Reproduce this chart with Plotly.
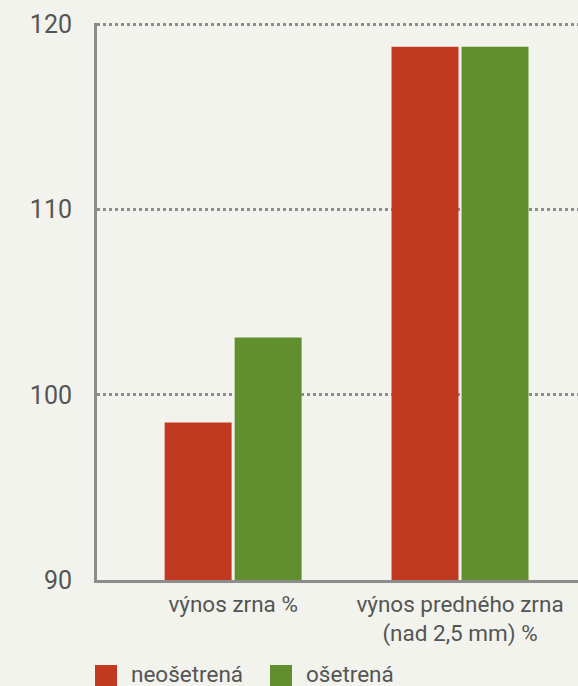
import plotly.graph_objects as go

categories = ["výnos zrna %", "výnos predného zrna<br>(nad 2,5 mm) %"]
series_names = ["neošetrená", "ošetrená"]
untreated = [98.5, 118.8]
treated = [103.1, 118.8]
y_ticks = [90, 100, 110, 120]

colors = ["#c13a20", "#628f2e"]
FONT = "Roboto, Arial, sans-serif"
TXT = "#555555"

W, H = 578, 686
ML, MR, MT, MB = 97, 0, 23, 106
PW, PH = W - ML - MR, H - MT - MB

fig = go.Figure()
for name, vals, c in zip(series_names, [untreated, treated], colors):
    fig.add_trace(go.Bar(x=categories, y=vals, name=name, marker_color=c,
                         marker_line_width=0, showlegend=False))

def px_x(p):
    return (p - ML) / PW

def px_y(p):
    return (H - MB - p) / PH

# custom legend
shapes = []
annotations = []
leg = [(95, 129), (270, 304)]
for (sx, tx), name, c in zip(leg, series_names, colors):
    shapes.append(dict(type="rect", xref="paper", yref="paper",
                       x0=px_x(sx), x1=px_x(sx + 22), y0=px_y(665), y1=px_y(687),
                       fillcolor=c, line_width=0, layer="above"))
    annotations.append(dict(text=name, xref="paper", yref="paper", x=px_x(tx), y=px_y(674),
                            xanchor="left", yanchor="middle", showarrow=False,
                            font=dict(family=FONT, size=22.5, color=TXT)))

fig.update_layout(
    width=W, height=H,
    margin=dict(l=ML, r=MR, t=MT, b=MB, pad=0),
    paper_bgcolor="#f1f3ec", plot_bgcolor="#f1f3ec",
    barmode="group", bargap=0.383, bargroupgap=0.043,
    font=dict(family=FONT, size=22.5, color=TXT),
    shapes=shapes, annotations=annotations,
    xaxis=dict(range=[-0.6, 1.52], showline=True, linecolor="#8c8c8c", linewidth=3,
               showgrid=False, ticks="", tickfont=dict(size=22.5, color=TXT),
               ticklabelstandoff=2),
    yaxis=dict(range=[90, 120.08], tickvals=y_ticks, showline=True, linecolor="#8c8c8c",
               linewidth=3, showgrid=True, gridcolor="#8c8c8c", gridwidth=2.5,
               griddash="dot", zeroline=False, ticks="", tickfont=dict(size=25, color=TXT),
               ticklabelstandoff=17),
)

fig.write_html("out.html", config={"displayModeBar": False},
               post_script="document.body.style.margin='0';document.body.style.background='#f1f3ec';")
